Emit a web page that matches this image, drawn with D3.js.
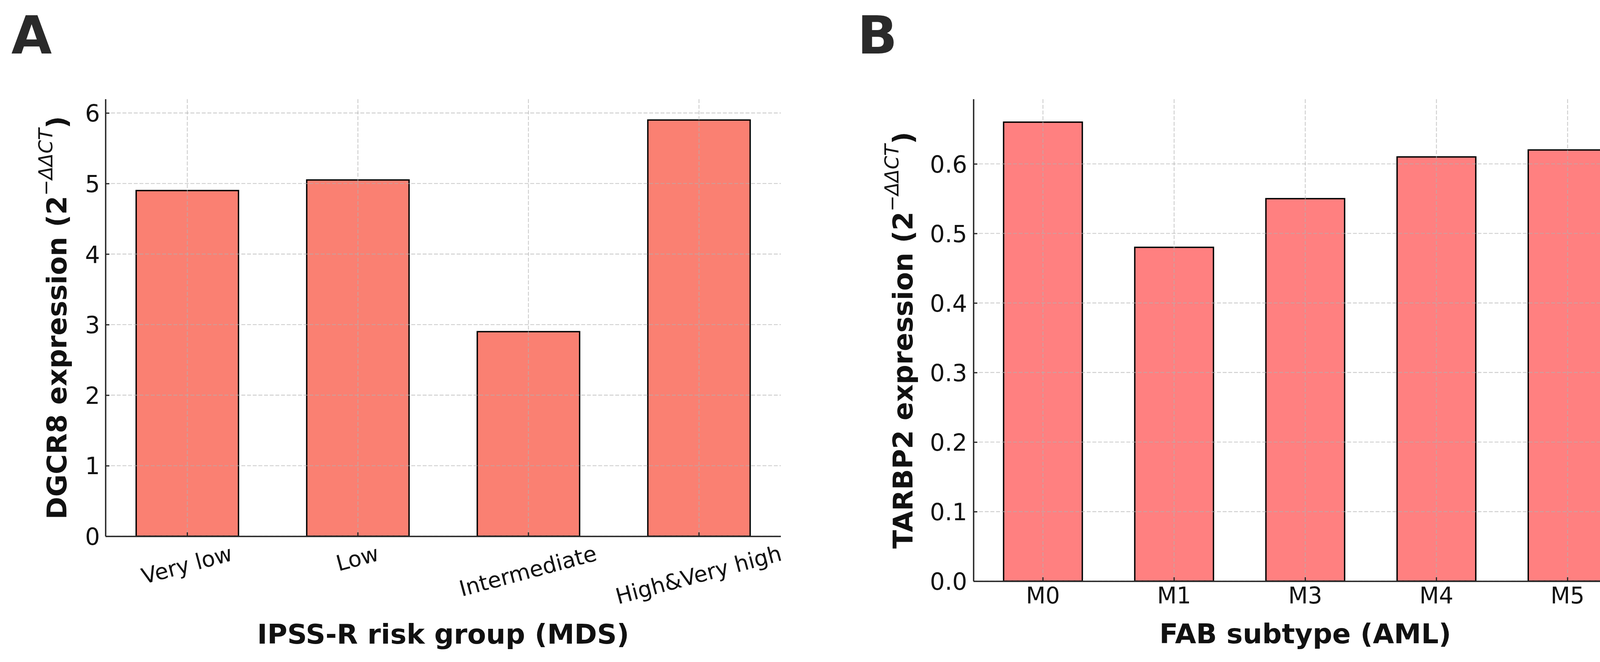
<!DOCTYPE html>
<html>
<head>
<meta charset="utf-8">
<script src="https://cdn.jsdelivr.net/npm/d3@7"></script>
<style>
  html, body { margin: 0; padding: 0; background: #ffffff; overflow: hidden; }
  svg { display: block; }
  text { font-family: "DejaVu Sans", sans-serif; }
</style>
</head>
<body>
<svg id="chart" width="4222" height="1695"></svg>
<script>
// ---------- data ----------
const mdsGroups = ["Very low", "Low", "Intermediate", "High&Very high"];
const dgcr8Values = [4.9, 5.05, 2.9, 5.9];
const mdsTicks = [0, 1, 2, 3, 4, 5, 6];

const fabSubtypes = ["M0", "M1", "M3", "M4", "M5"];
const tarbp2Values = [0.66, 0.48, 0.55, 0.61, 0.62];
const fabTicks = [0.0, 0.1, 0.2, 0.3, 0.4, 0.5, 0.6];

// ---------- layout / style ----------
const svg = d3.select("#chart");

const panels = [
  {
    letter: "A", letterX: 29, letterY: 137,
    cats: mdsGroups, vals: dgcr8Values, ticks: mdsTicks, tickFmt: d3.format("d"),
    left: 270, right: 1999, top: 254, bottom: 1373,
    color: "#FA8072",
    yLabelMain: "DGCR8 expression (2", yLabelX: 170,
    xLabel: "IPSS-R risk group (MDS)", xLabelY: 1648,
    rotate: 15, xTickFont: 56, yTickPad: 14
  },
  {
    letter: "B", letterX: 2195, letterY: 137,
    cats: fabSubtypes, vals: tarbp2Values, ticks: fabTicks, tickFmt: d3.format(".1f"),
    left: 2492, right: 4191, top: 254, bottom: 1488,
    color: "#FF8080",
    yLabelMain: "TARBP2 expression (2", yLabelX: 2336,
    xLabel: "FAB subtype (AML)", xLabelY: 1647,
    rotate: 0, xTickFont: 58, yTickPad: 16
  }
];

const spineColor = "#262626";
const tickFont = 60;
const labelFont = 70;

panels.forEach(p => {
  const n = p.cats.length;
  const outer = 0.05 * (n - 0.4);
  const x = d3.scaleBand().domain(p.cats).range([p.left, p.right])
    .paddingInner(0.4).paddingOuter(outer).align(0.5);
  const ymax = d3.max(p.vals) * 1.05;
  const y = d3.scaleLinear().domain([0, ymax]).range([p.bottom, p.top]);

  const g = svg.append("g");

  // bars
  g.selectAll("rect.bar").data(p.vals).join("rect")
    .attr("class", "bar")
    .attr("x", (d, i) => x(p.cats[i]))
    .attr("width", x.bandwidth())
    .attr("y", d => y(d))
    .attr("height", d => y(0) - y(d))
    .attr("fill", p.color)
    .attr("stroke", "#000")
    .attr("stroke-width", 3.5);

  // grid (drawn over the bars, semi-transparent)
  const grid = g.append("g").attr("stroke", "#b0b0b0").attr("stroke-opacity", 0.6)
    .attr("stroke-width", 2.4).attr("stroke-dasharray", "10,4.5");
  grid.selectAll("line.h").data(p.ticks).join("line")
    .attr("x1", p.left).attr("x2", p.right)
    .attr("y1", d => y(d)).attr("y2", d => y(d));
  grid.selectAll("line.v").data(p.cats).join("line")
    .attr("x1", d => x(d) + x.bandwidth() / 2).attr("x2", d => x(d) + x.bandwidth() / 2)
    .attr("y1", p.top).attr("y2", p.bottom);

  // y axis
  const yAxis = d3.axisLeft(y).tickValues(p.ticks).tickFormat(p.tickFmt)
    .tickSizeInner(-10).tickSizeOuter(0).tickPadding(p.yTickPad);
  const ya = g.append("g").attr("transform", `translate(${p.left},0)`).call(yAxis);
  ya.select(".domain").attr("stroke", spineColor).attr("stroke-width", 3.5)
    .attr("d", `M0.5,${p.top}V${p.bottom}`);
  ya.selectAll(".tick line").attr("stroke", spineColor).attr("stroke-width", 3);
  ya.selectAll(".tick text").attr("font-size", tickFont).attr("fill", "#111")
    .attr("dy", "0.36em").style("font-family", "'DejaVu Sans', sans-serif");

  // x axis
  const xAxis = d3.axisBottom(x).tickSizeInner(-10).tickSizeOuter(0).tickPadding(16);
  const xa = g.append("g").attr("transform", `translate(0,${p.bottom})`).call(xAxis);
  xa.select(".domain").attr("stroke", spineColor).attr("stroke-width", 3.5)
    .attr("d", `M${p.left},0.5H${p.right}`);
  xa.selectAll(".tick line").attr("stroke", spineColor).attr("stroke-width", 3);
  xa.selectAll(".tick text").attr("font-size", p.xTickFont).attr("fill", "#111")
    .style("font-family", "'DejaVu Sans', sans-serif");

  if (p.rotate) {
    const th = p.rotate * Math.PI / 180;
    const fs = p.xTickFont;
    const asc = 0.76 * fs, desc = 0.24 * fs, pad = 20;
    xa.selectAll(".tick text").each(function () {
      const t = d3.select(this);
      t.attr("text-anchor", "start").attr("dy", null).attr("y", 0);
      const L = this.getComputedTextLength();
      const xmin = -asc * Math.sin(th);
      const xmax = L * Math.cos(th) + desc * Math.sin(th);
      const ymin = -L * Math.sin(th) - asc * Math.cos(th);
      const x0 = -(xmin + xmax) / 2;
      const y0 = pad - ymin;
      t.attr("transform", `translate(${x0},${y0}) rotate(${-p.rotate})`);
    });
  }

  // x label
  g.append("text")
    .attr("x", (p.left + p.right) / 2).attr("y", p.xLabelY)
    .attr("text-anchor", "middle").attr("font-size", labelFont).attr("font-weight", "bold")
    .attr("fill", "#111").text(p.xLabel);

  // y label with superscript 2^{-ΔΔCT}
  const cy = (p.top + p.bottom) / 2;
  const yl = g.append("text")
    .attr("transform", `translate(${p.yLabelX},${cy}) rotate(-90)`)
    .attr("text-anchor", "middle").attr("font-size", labelFont).attr("fill", "#111");
  yl.append("tspan").attr("font-weight", "bold").text(p.yLabelMain);
  yl.append("tspan").attr("dy", -36).attr("font-size", 49).attr("font-weight", "normal").text("\u2212");
  yl.append("tspan").attr("font-size", 49).attr("font-style", "italic").attr("font-weight", "normal").text("\u0394\u0394CT");
  yl.append("tspan").attr("dy", 36).attr("font-weight", "bold").text(")");

  // panel letter
  svg.append("text").attr("x", p.letterX).attr("y", p.letterY)
    .attr("font-size", 134).attr("font-weight", "bold").attr("fill", "#2a2a2a")
    .text(p.letter);
});
</script>
</body>
</html>
